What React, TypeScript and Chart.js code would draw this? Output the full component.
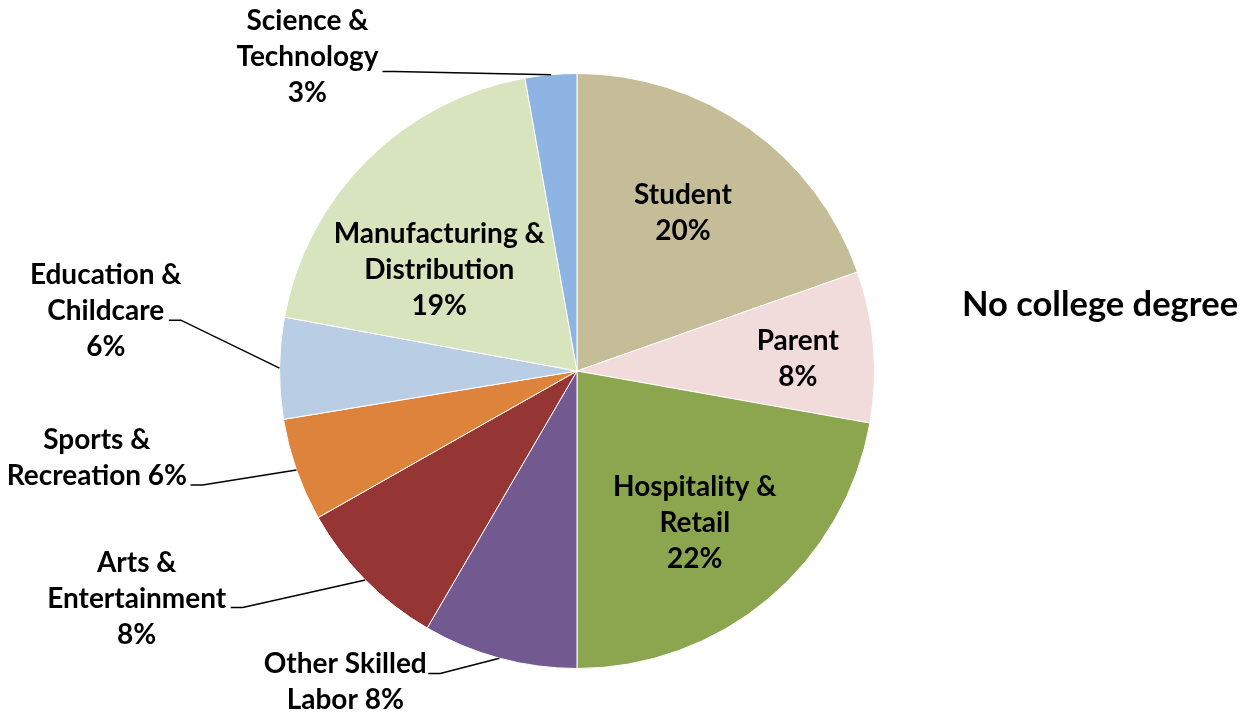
import React, { useEffect, useRef } from "react";
import { Chart, registerables } from "chart.js";

Chart.register(...registerables);

const categories = [
  "Student",
  "Parent",
  "Hospitality & Retail",
  "Other Skilled Labor",
  "Arts & Entertainment",
  "Sports & Recreation",
  "Education & Childcare",
  "Manufacturing & Distribution",
  "Science & Technology",
];
const shares = [19.6, 8.2, 22.2, 8.4, 8.4, 5.6, 5.5, 19.3, 2.8];
const sliceColors = [
  "#C4BD97",
  "#F2DCDB",
  "#8BA64E",
  "#725A91",
  "#963634",
  "#DE833C",
  "#B9CDE5",
  "#D7E4BD",
  "#8DB4E2",
];
const chartTitle = "No college degree";

// label text lines ("{p}" replaced by the rounded percentage)
const labelLines = [
  ["Student", "{p}"],
  ["Parent", "{p}"],
  ["Hospitality &", "Retail", "{p}"],
  ["Other Skilled", "Labor {p}"],
  ["Arts &", "Entertainment", "{p}"],
  ["Sports &", "Recreation {p}"],
  ["Education &", "Childcare", "{p}"],
  ["Manufacturing &", "Distribution", "{p}"],
  ["Science &", "Technology", "{p}"],
];

// layout (relative to pie centre, in radius units)
const labelLayout: { pos: [number, number]; leader?: [number, number] }[] = [
  { pos: [0.356, -0.53] },
  { pos: [0.742, -0.039] },
  { pos: [0.396, 0.51] },
  { pos: [-0.779, 1.045], leader: [-0.5, 1.017] },
  { pos: [-1.48, 0.765], leader: [-1.164, 0.795] },
  { pos: [-1.614, 0.294], leader: [-1.299, 0.383] },
  { pos: [-1.584, -0.201], leader: [-1.372, -0.171] },
  { pos: [-0.463, -0.339] },
  { pos: [-0.906, -1.054], leader: [-0.654, -1.007] },
];

const FONT = "Lato, 'Open Sans', sans-serif";

const labelPlugin = {
  id: "pieLabels",
  afterDatasetsDraw(chart: any) {
    const meta = chart.getDatasetMeta(0);
    const ctx = chart.ctx;
    const total = shares.reduce((a, b) => a + b, 0);
    ctx.save();
    meta.data.forEach((arc: any, i: number) => {
      const { x, y, outerRadius, startAngle, endAngle } = arc.getProps(
        ["x", "y", "outerRadius", "startAngle", "endAngle"],
        true
      );
      const r = outerRadius;
      const lay = labelLayout[i];
      const pct = Math.round((shares[i] / total) * 100) + "%";
      const lines = labelLines[i].map((l) => l.replace("{p}", pct));
      const lh = 36;
      const cx = x + lay.pos[0] * r;
      const cy = y + lay.pos[1] * r;
      ctx.font = `bold 28px ${FONT}`;
      ctx.fillStyle = "#000";
      ctx.textAlign = "center";
      ctx.textBaseline = "middle";
      lines.forEach((ln, k) => {
        ctx.fillText(ln, cx, cy + (k - (lines.length - 1) / 2) * lh);
      });
      if (lay.leader) {
        const mid = (startAngle + endAngle) / 2;
        const ex = x + Math.cos(mid) * r;
        const ey = y + Math.sin(mid) * r;
        const sx = x + lay.leader[0] * r;
        const sy = y + lay.leader[1] * r;
        ctx.strokeStyle = "#000";
        ctx.lineWidth = 1.5;
        ctx.beginPath();
        ctx.moveTo(sx, sy);
        ctx.lineTo(sx + 12, sy);
        ctx.lineTo(ex, ey);
        ctx.stroke();
      }
    });
    ctx.font = `bold 34.5px ${FONT}`;
    ctx.textAlign = "center";
    ctx.textBaseline = "middle";
    ctx.fillStyle = "#000";
    ctx.fillText(chartTitle, 1100, 305);
    ctx.restore();
  },
};

export default function App() {
  const ref = useRef<HTMLCanvasElement>(null);
  useEffect(() => {
    if (!ref.current) return;
    const chart = new Chart(ref.current, {
      type: "pie",
      data: {
        labels: categories,
        datasets: [
          {
            data: shares,
            backgroundColor: sliceColors,
            borderColor: "#ffffff",
            borderWidth: 1,
            hoverOffset: 0,
          },
        ],
      },
      options: {
        responsive: false,
        animation: false,
        layout: { padding: { left: 279, right: 379, top: 73, bottom: 46 } },
        plugins: {
          legend: { display: false },
          tooltip: { enabled: false },
          title: { display: false },
        },
      },
      plugins: [labelPlugin],
    });
    return () => chart.destroy();
  }, []);
  return (
    <div style={{ position: "fixed", left: 0, top: 0, width: 1254, height: 715, background: "#fff" }}>
      <canvas ref={ref} width={1254} height={715} />
    </div>
  );
}
